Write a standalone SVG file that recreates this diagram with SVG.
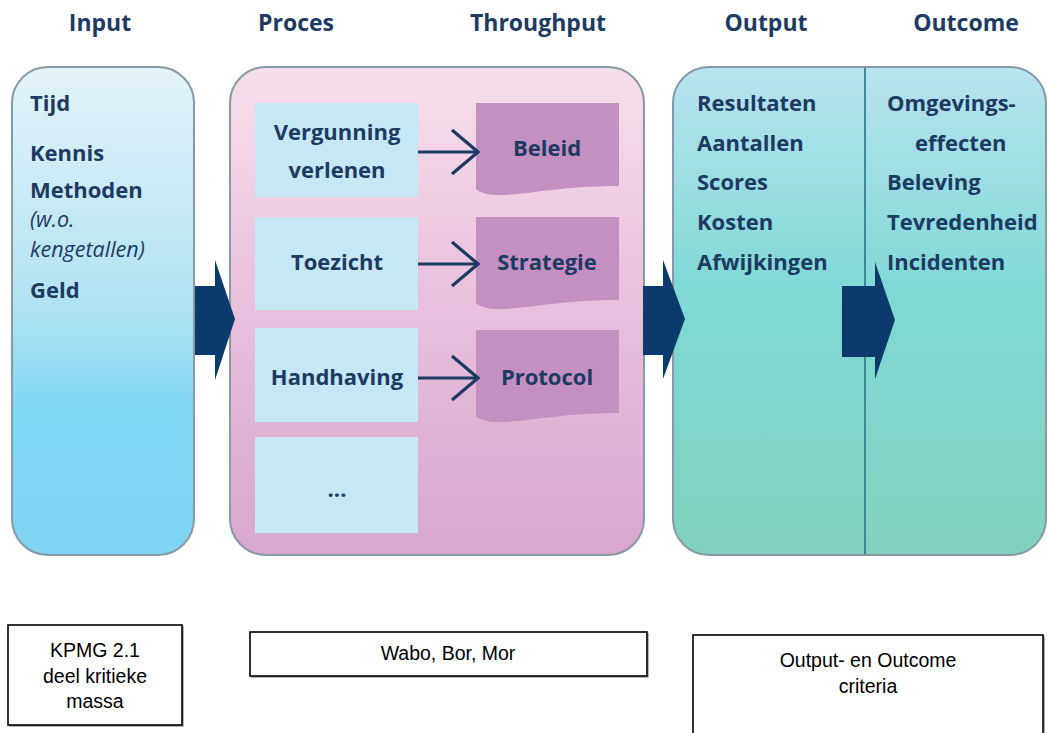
<svg xmlns="http://www.w3.org/2000/svg" width="1049" height="733" viewBox="0 0 1049 733">
<defs>
<linearGradient id="gIn" x1="0" y1="0" x2="0" y2="1">
<stop offset="0" stop-color="#e4f3f8"/>
<stop offset="0.5" stop-color="#b0e2f3"/>
<stop offset="0.7" stop-color="#7fd7f2"/>
<stop offset="1" stop-color="#7fd3f3"/>
</linearGradient>
<linearGradient id="gPr" x1="0" y1="0" x2="0" y2="1">
<stop offset="0" stop-color="#f7dfeb"/>
<stop offset="0.5" stop-color="#e8bfdc"/>
<stop offset="1" stop-color="#d8a7cd"/>
</linearGradient>
<linearGradient id="gOut" x1="0" y1="0" x2="0" y2="1">
<stop offset="0" stop-color="#b9e3f0"/>
<stop offset="0.45" stop-color="#80d9d6"/>
<stop offset="1" stop-color="#80d2bd"/>
</linearGradient>
<marker id="chev" viewBox="0 0 30 50" refX="28" refY="25" markerWidth="30" markerHeight="50" markerUnits="userSpaceOnUse" orient="auto">
<polyline points="2,3 28,25 2,47" fill="none" stroke="#1d3a63" stroke-width="3.2"/>
</marker>
<style>
.hd{font-family:"Open Sans","DejaVu Sans",sans-serif;font-weight:bold;font-size:23px;fill:#1c3a62}
.tx{font-family:"Open Sans","DejaVu Sans",sans-serif;font-weight:bold;font-size:22px;fill:#1c3a62}
.it{font-family:"Open Sans","DejaVu Sans",sans-serif;font-style:italic;font-size:21.5px;fill:#1c3a62}
.big{stroke:#8799a6;stroke-width:2}
.lb{fill:#c6e7f5}
.pu{fill:#c48fc1}
.arw{fill:#0b3a6d}
.cl{stroke:#1d3a63;stroke-width:3.2;fill:none}
.nb{fill:#fff;stroke:#000;stroke-width:1.6}
.sh{fill:none;stroke:#9a9a9a;stroke-width:1.5}
.nt{font-family:"Liberation Sans",Arial,sans-serif;font-size:19.5px;fill:#000}
</style>
</defs>
<rect width="1049" height="733" fill="#fff"/>

<g id="headers">
<text class="hd" x="100" y="31" text-anchor="middle">Input</text>
<text class="hd" x="296" y="31" text-anchor="middle">Proces</text>
<text class="hd" x="538" y="31" text-anchor="middle">Throughput</text>
<text class="hd" x="766" y="31" text-anchor="middle">Output</text>
<text class="hd" x="966" y="31" text-anchor="middle">Outcome</text>
</g>

<g id="input">
<rect class="big" x="12" y="67" width="182" height="488" rx="36" fill="url(#gIn)"/>
<text class="tx" x="30" y="111">Tijd</text>
<text class="tx" x="30" y="161">Kennis</text>
<text class="tx" x="30" y="198">Methoden</text>
<text class="it" x="30" y="227">(w.o.</text>
<text class="it" x="30" y="257">kengetallen)</text>
<text class="tx" x="30" y="298">Geld</text>
</g>

<g id="proces">
<rect class="big" x="230" y="67" width="414" height="488" rx="36" fill="url(#gPr)"/>
</g>

<g id="vergunning">
<rect class="lb" x="255" y="103" width="163" height="94"/>
<text class="tx" x="337" y="140" text-anchor="middle">Vergunning</text>
<text class="tx" x="337" y="178" text-anchor="middle">verlenen</text>
</g>
<g id="toezicht">
<rect class="lb" x="255" y="217" width="163" height="93"/>
<text class="tx" x="337" y="270" text-anchor="middle">Toezicht</text>
</g>
<g id="handhaving">
<rect class="lb" x="255" y="328" width="163" height="94"/>
<text class="tx" x="337" y="385" text-anchor="middle">Handhaving</text>
</g>
<g id="overig">
<rect class="lb" x="255" y="437" width="163" height="96"/>
<text class="tx" x="337" y="497" text-anchor="middle">...</text>
</g>

<g id="beleid">
<path class="pu" d="M476,103 H619 V186 C590,186 565,188 535,192 C505,196 484,197 476,189 Z"/>
<text class="tx" x="547" y="156" text-anchor="middle">Beleid</text>
</g>
<g id="strategie">
<path class="pu" d="M476,217 H619 V300 C590,300 565,302 535,306 C505,310 484,311 476,303 Z"/>
<text class="tx" x="547" y="270" text-anchor="middle">Strategie</text>
</g>
<g id="protocol">
<path class="pu" d="M476,330 H619 V413 C590,413 565,415 535,419 C505,423 484,424 476,416 Z"/>
<text class="tx" x="547" y="385" text-anchor="middle">Protocol</text>
</g>

<g id="output-outcome">
<rect class="big" x="673" y="67" width="373" height="488" rx="36" fill="url(#gOut)"/>
<line x1="865" y1="68" x2="865" y2="554" stroke="#3d8a96" stroke-width="2"/>
<text class="tx" x="697" y="111">Resultaten</text>
<text class="tx" x="697" y="151">Aantallen</text>
<text class="tx" x="697" y="190">Scores</text>
<text class="tx" x="697" y="230">Kosten</text>
<text class="tx" x="697" y="270">Afwijkingen</text>
<text class="tx" x="887" y="111">Omgevings-</text>
<text class="tx" x="915" y="151">effecten</text>
<text class="tx" x="887" y="190">Beleving</text>
<text class="tx" x="887" y="230">Tevredenheid</text>
<text class="tx" x="887" y="270">Incidenten</text>
</g>

<g id="connectors">
<polygon class="arw" points="195,286 215,286 215,260 235,319 215,380 215,355 195,355"/>
<polygon class="arw" points="643,286 663,286 663,260 685,319 663,379 663,355 643,355"/>
<polygon class="arw" points="842,286 875,286 875,262 895,320 875,379 875,357 842,357"/>
<line class="cl" x1="418" y1="152" x2="478" y2="152" marker-end="url(#chev)"/>
<line class="cl" x1="418" y1="264" x2="478" y2="264" marker-end="url(#chev)"/>
<line class="cl" x1="418" y1="378" x2="478" y2="378" marker-end="url(#chev)"/>
</g>

<g id="note-kpmg">
<polyline class="sh" points="183,626 183,726 9,726"/>
<rect class="nb" x="8" y="625" width="174" height="100"/>
<text class="nt" x="95" y="657" text-anchor="middle">KPMG 2.1</text>
<text class="nt" x="95" y="683" text-anchor="middle">deel kritieke</text>
<text class="nt" x="95" y="708" text-anchor="middle">massa</text>
</g>
<g id="note-wabo">
<polyline class="sh" points="648,633 648,677 251,677"/>
<rect class="nb" x="250" y="632" width="397" height="44"/>
<text class="nt" x="448" y="660" text-anchor="middle">Wabo, Bor, Mor</text>
</g>
<g id="note-criteria">
<polyline class="sh" points="1044,636 1044,740"/>
<rect class="nb" x="693" y="635" width="350" height="110"/>
<text class="nt" x="868" y="667" text-anchor="middle">Output- en Outcome</text>
<text class="nt" x="868" y="693" text-anchor="middle">criteria</text>
</g>
</svg>
